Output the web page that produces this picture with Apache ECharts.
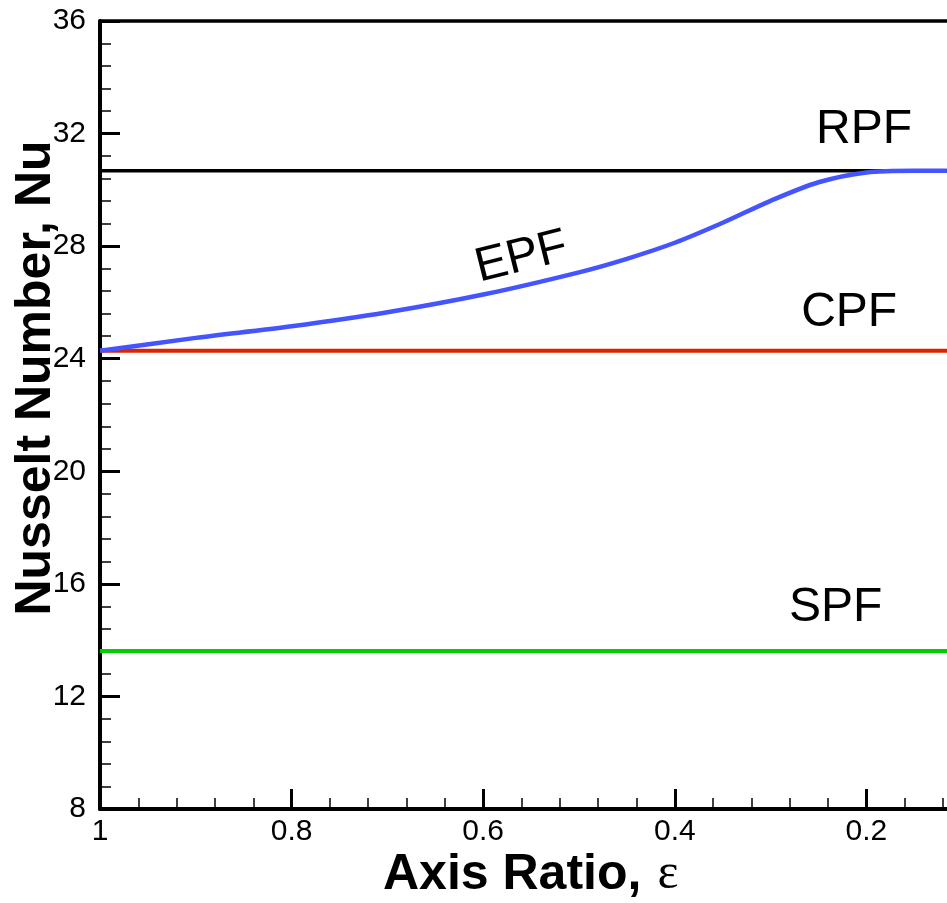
<!DOCTYPE html>
<html>
<head>
<meta charset="utf-8">
<script src="https://cdn.jsdelivr.net/npm/echarts@6/dist/echarts.min.js"></script>
<style>
html,body{margin:0;padding:0;background:#fff;}
#chart{width:947px;height:903px;}
</style>
</head>
<body>
<div id="chart"></div>
<script>
// Axis ratio values (x) and Nusselt numbers (y)
const epfX  = [1.0, 0.9, 0.8, 0.7, 0.6, 0.5, 0.45, 0.4, 0.35, 0.3, 0.25, 0.2, 0.15, 0.116];
const epfNu = [24.28, 24.74, 25.15, 25.65, 26.28, 27.07, 27.55, 28.12, 28.83, 29.61, 30.27, 30.62, 30.68, 30.68];
const constX = [1.0, 0.0];
const rpfNu = 30.68;
const cpfNu = 24.28;
const spfNu = 13.61;
const yTicks = [8, 12, 16, 20, 24, 28, 32, 36];
const xTicks = [1, 0.8, 0.6, 0.4, 0.2];

const FONT = "'Liberation Sans', Arial, sans-serif";

function pairs(xs, ys) { return xs.map((x, i) => [x, ys[i]]); }
function flat(xs, v) { return xs.map(x => [x, v]); }

function lbl(text, coord, rotate) {
  return {
    symbol: 'circle', symbolSize: 0, silent: true,
    data: [{ coord: coord, value: text }],
    label: {
      show: true, position: 'inside', formatter: text,
      fontFamily: FONT, fontSize: 48, color: '#000', rotate: rotate || 0
    }
  };
}

const chart = echarts.init(document.getElementById('chart'), null, { renderer: 'canvas' });
chart.setOption({
  backgroundColor: '#fff',
  animation: false,
  grid: { left: 100, top: 21, bottom: 94, right: -111, containLabel: false, outerBoundsMode: 'none' },
  xAxis: [{
    type: 'value', min: 0, max: 1, interval: 0.2, inverse: true,
    axisLine: { show: true, onZero: false, lineStyle: { color: '#000', width: 4 } },
    axisTick: { show: true, inside: true, length: 20, lineStyle: { color: '#000', width: 3 } },
    minorTick: { show: true, splitNumber: 5, length: 11, lineStyle: { color: '#000', width: 1.5 } },
    splitLine: { show: false },
    axisLabel: {
      fontFamily: FONT, fontSize: 30, color: '#000', margin: 8,
      formatter: v => (xTicks.some(t => Math.abs(t - v) < 1e-6) ? String(+v.toFixed(1)) : '')
    }
  }, {
    type: 'value', position: 'top', min: 0, max: 1, inverse: true,
    axisLine: { show: true, onZero: false, lineStyle: { color: '#000', width: 3.5 } },
    axisTick: { show: false }, axisLabel: { show: false }, splitLine: { show: false }
  }],
  yAxis: {
    type: 'value', min: 8, max: 36, interval: 4,
    axisLine: { show: true, onZero: false, lineStyle: { color: '#000', width: 4 } },
    axisTick: { show: true, inside: true, length: 20, lineStyle: { color: '#000', width: 3 } },
    minorTick: { show: true, splitNumber: 5, length: 11, lineStyle: { color: '#000', width: 1.5 } },
    splitLine: { show: false },
    axisLabel: {
      fontFamily: FONT, fontSize: 30, color: '#000', margin: 14,
      formatter: v => (yTicks.includes(v) ? String(v) : '')
    }
  },
  series: [
    {
      name: 'RPF', type: 'line', data: flat(constX, rpfNu), showSymbol: false, symbol: 'none',
      lineStyle: { color: '#000', width: 3.5 }, markPoint: lbl('RPF', [0.2025, 32.14])
    },
    {
      name: 'CPF', type: 'line', data: flat(constX, cpfNu), showSymbol: false, symbol: 'none',
      lineStyle: { color: '#dd2200', width: 4 }, markPoint: lbl('CPF', [0.218, 25.62])
    },
    {
      name: 'SPF', type: 'line', data: flat(constX, spfNu), showSymbol: false, symbol: 'none',
      lineStyle: { color: '#00cc00', width: 4 }, markPoint: lbl('SPF', [0.232, 15.14])
    },
    {
      name: 'EPF', type: 'line', data: pairs(epfX, epfNu), showSymbol: false, symbol: 'none',
      smooth: 0.3,
      lineStyle: { color: '#4455ff', width: 4.5 }, markPoint: lbl('EPF', [0.560, 27.59], 14)
    }
  ],
  graphic: [
    {
      type: 'text', left: 383, top: 850, silent: true,
      style: {
        text: '{b|Axis Ratio,}{s| }{e|ε}',
        rich: {
          b: { fontFamily: FONT, fontWeight: 'bold', fontSize: 50, fill: '#000' },
          s: { fontFamily: FONT, fontSize: 50, width: 16 },
          e: { fontFamily: "'Liberation Serif', 'Times New Roman', serif", fontSize: 50, fill: '#000' }
        }
      }
    },
    {
      type: 'text', x: 36, y: 378, rotation: Math.PI / 2, silent: true,
      style: {
        text: 'Nusselt Number, Nu', fontFamily: FONT, fontWeight: 'bold', fontSize: 50,
        fill: '#000', align: 'center', verticalAlign: 'middle'
      }
    }
  ]
});
</script>
</body>
</html>
